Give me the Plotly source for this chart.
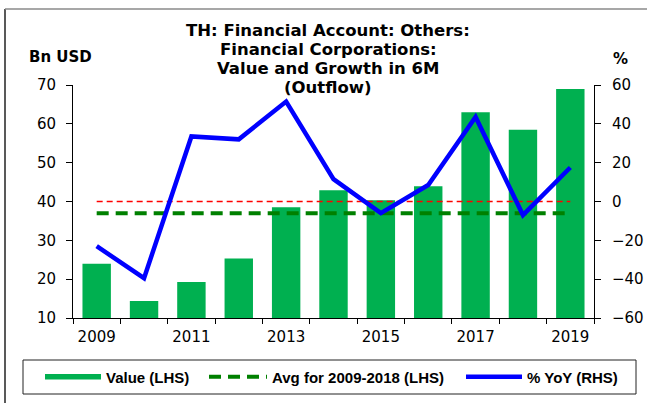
import plotly.graph_objects as go

years = [2009, 2010, 2011, 2012, 2013, 2014, 2015, 2016, 2017, 2018, 2019]
value_bn = [24.0, 14.4, 19.3, 25.3, 38.5, 42.9, 40.3, 43.9, 63.0, 58.5, 69.0]
yoy_pct = [-23.0, -39.5, 33.5, 32.0, 51.5, 11.5, -6.0, 8.5, 43.5, -7.0, 17.5]
avg_2009_2018 = 37.0
zero_ref = 0.0
x_tick_years = [2009, 2011, 2013, 2015, 2017, 2019]
title_lines = ["TH: Financial Account: Others:", "Financial Corporations:",
               "Value and Growth in 6M", "(Outflow)"]

W, H = 647, 403
# plot area in pixels
L, R, T, B = 73, 594, 85, 318


def px_x(p):
    return (p - L) / (R - L)


def px_y(p):
    return (B - p) / (B - T)


FONT = "DejaVu Sans, sans-serif"
LEG_FONT = "Liberation Sans, Arial, sans-serif"
GREEN = "#00B050"

fig = go.Figure()

fig.add_trace(go.Bar(
    x=years, y=value_bn, marker=dict(color=GREEN, line=dict(width=0)),
    width=0.6, showlegend=False, name="Value (LHS)",
))
# legend swatch for the bars (thick line like the original)
fig.add_trace(go.Scatter(
    x=[None], y=[None], mode="lines", line=dict(color=GREEN, width=5.5),
    name="Value (LHS)", legend="legend",
))
fig.add_trace(go.Scatter(
    x=[years[0], years[-1]], y=[avg_2009_2018, avg_2009_2018], mode="lines",
    line=dict(color="#008000", width=4, dash="12px,7px"),
    name="Avg for 2009-2018 (LHS)", legend="legend2",
))
fig.add_trace(go.Scatter(
    x=[years[0], years[-1]], y=[zero_ref, zero_ref], mode="lines", yaxis="y2",
    line=dict(color="#FF0000", width=1.5, dash="6px,4px"), showlegend=False,
))
fig.add_trace(go.Scatter(
    x=years, y=yoy_pct, mode="lines", yaxis="y2",
    line=dict(color="#0000FF", width=4.5),
    name="% YoY (RHS)", legend="legend3",
))

tick_font = dict(family=FONT, size=15, color="black")
leg_font = dict(family=LEG_FONT, size=15, color="black", weight="bold")


def legend_at(px, iw):
    return dict(orientation="h", x=px_x(px), y=px_y(377), xanchor="left", yanchor="middle",
                borderwidth=0, bgcolor="rgba(0,0,0,0)", font=leg_font, itemwidth=iw)


annotations = []
line_y = [31, 49.5, 68, 87.5]
for txt, yy in zip(title_lines, line_y):
    annotations.append(dict(
        text="<b>" + txt + "</b>", x=px_x(328), y=px_y(yy), xref="paper", yref="paper",
        xanchor="center", yanchor="middle", showarrow=False,
        font=dict(family=FONT, size=16.5, color="black")))
annotations.append(dict(text="<b>Bn USD</b>", x=px_x(27), y=px_y(57), xref="paper", yref="paper",
                        xanchor="left", yanchor="middle", showarrow=False,
                        font=dict(family=FONT, size=15, color="black")))
annotations.append(dict(text="<b>%</b>", x=px_x(620), y=px_y(59), xref="paper", yref="paper",
                        xanchor="center", yanchor="middle", showarrow=False,
                        font=dict(family=FONT, size=15, color="black")))

fig.update_layout(
    width=W, height=H,
    margin=dict(l=L, r=W - R, t=T, b=H - B, pad=0, autoexpand=False),
    paper_bgcolor="white", plot_bgcolor="white",
    font=dict(family=FONT, color="black"),
    xaxis=dict(
        range=[2008.5, 2019.5], tickvals=x_tick_years, ticks="", ticklen=0,
        showline=True, linecolor="black", linewidth=1, showgrid=False, zeroline=False,
        tickfont=tick_font, ticklabelstandoff=5,
        minor=dict(tick0=2008.5, dtick=1, ticks="outside", ticklen=5, tickcolor="black", showgrid=False),
    ),
    yaxis=dict(
        range=[10, 70], dtick=10, ticks="outside", ticklen=6, tickcolor="black",
        showline=True, linecolor="black", linewidth=1, showgrid=False, zeroline=False,
        tickfont=tick_font, ticklabelstandoff=7,
    ),
    yaxis2=dict(
        range=[-60, 60], dtick=20, ticks="outside", ticklen=6, tickcolor="black",
        overlaying="y", side="right",
        showline=True, linecolor="black", linewidth=1, showgrid=False, zeroline=False,
        tickfont=tick_font, ticklabelstandoff=8,
    ),
    showlegend=True,
    legend=legend_at(40, 56),
    legend2=legend_at(204, 58),
    legend3=legend_at(461, 56),
    annotations=annotations,
    shapes=[
        dict(type="rect", xref="paper", yref="paper", x0=px_x(23), x1=px_x(636), y0=px_y(360), y1=px_y(394),
             line=dict(color="#222222", width=1), fillcolor="rgba(0,0,0,0)", layer="below"),
        dict(type="line", xref="paper", yref="paper", x0=px_x(5), x1=px_x(5), y0=px_y(9), y1=px_y(403),
             line=dict(color="#222222", width=1.5)),
        dict(type="line", xref="paper", yref="paper", x0=px_x(5), x1=px_x(647), y0=px_y(9), y1=px_y(9),
             line=dict(color="#8a8a8a", width=1.5)),
    ],
)

# the page's default body margin would push the 647x403 figure off the window
fig.write_html("out.html", config={"displayModeBar": False},
               post_script="document.body.style.margin='0';")
